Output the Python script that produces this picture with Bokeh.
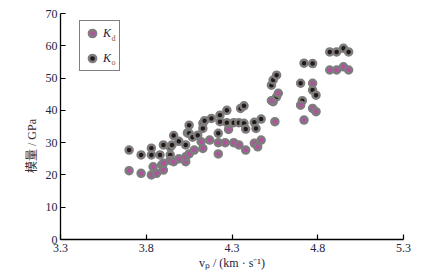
from bokeh.plotting import figure
from bokeh.models import Range1d, FixedTicker, Legend, LegendItem, Label, ColumnDataSource
from bokeh.embed import file_html
from bokeh.resources import INLINE

# ---- data ----
x_ticks = [3.3, 3.8, 4.3, 4.8, 5.3]
y_ticks = [0, 10, 20, 30, 40, 50, 60, 70]

ko_vp = [3.70, 3.77, 3.83, 3.83, 3.88, 3.90, 3.94, 3.94, 3.95, 3.96, 3.99, 4.03,
         4.04, 4.05, 4.05, 4.07, 4.10, 4.13, 4.13, 4.14, 4.18, 4.22, 4.23, 4.23,
         4.27, 4.27, 4.31, 4.34, 4.35, 4.37, 4.37, 4.38, 4.43, 4.44, 4.47, 4.53,
         4.54, 4.56, 4.54, 4.56, 4.70, 4.71, 4.72, 4.77, 4.77, 4.79, 4.87, 4.91,
         4.95, 4.98]
ko_mod = [27.7, 26.2, 28.3, 26.2, 26.2, 29.3, 28.6, 26.2, 29.3, 32.2, 30.4, 29.3,
          33.0, 35.4, 32.9, 31.7, 32.3, 36.0, 34.4, 36.8, 37.5, 32.9, 38.5, 36.5,
          40.0, 36.2, 36.2, 36.2, 40.6, 41.4, 36.0, 34.2, 36.3, 34.4, 37.3, 47.8,
          49.4, 50.9, 42.7, 44.2, 48.4, 43.0, 54.6, 54.5, 46.3, 44.7, 58.1, 58.1,
          59.2, 58.1]

kd_vp = [3.70, 3.77, 3.83, 3.84, 3.86, 3.89, 3.90, 3.90, 3.94, 3.96, 3.99, 4.03,
         4.03, 4.05, 4.08, 4.12, 4.13, 4.17, 4.22, 4.22, 4.26, 4.28, 4.31, 4.34,
         4.38, 4.43, 4.45, 4.47, 4.53, 4.55, 4.57, 4.70, 4.72, 4.77, 4.77, 4.79,
         4.87, 4.91, 4.95, 4.98]
kd_mod = [21.3, 20.5, 20.0, 22.5, 20.5, 23.1, 21.5, 23.6, 24.5, 24.1, 25.0, 24.1,
          25.6, 26.5, 27.7, 30.3, 28.2, 30.8, 30.0, 26.5, 30.0, 34.1, 30.0, 29.3,
          27.7, 29.8, 28.7, 30.8, 43.0, 36.5, 45.3, 41.6, 37.0, 48.4, 40.6, 39.6,
          52.5, 52.5, 53.5, 52.5]

RING = "#7d7d7d"
PURPLE = "#b4509f"
DARK = "#231815"
TEXT = "#1c2340"
SERIF = "'Liberation Serif', 'Noto Sans CJK SC'"

p = figure(width=428, height=277, output_backend="svg", toolbar_location=None,
           x_range=Range1d(3.3, 5.3), y_range=Range1d(0, 70),
           min_border_left=60, min_border_top=13, min_border_right=25, min_border_bottom=38)
p.outline_line_color = None
p.xgrid.visible = False
p.ygrid.visible = False
p.background_fill_color = "white"

src_ko = ColumnDataSource(dict(x=ko_vp, y=ko_mod))
src_kd = ColumnDataSource(dict(x=kd_vp, y=kd_mod))
r_ko = p.scatter("x", "y", source=src_ko, marker="circle", size=7,
                 fill_color=DARK, line_color=RING, line_width=2.5)
r_kd = p.scatter("x", "y", source=src_kd, marker="circle", size=7,
                 fill_color=PURPLE, line_color=RING, line_width=2.5)

for ax in (p.xaxis[0], p.yaxis[0]):
    ax.axis_line_color = "black"
    ax.axis_line_width = 1.3
    ax.major_tick_line_color = "black"
    ax.major_tick_line_width = 1.2
    ax.major_tick_in = 5
    ax.major_tick_out = 0
    ax.minor_tick_line_color = None
    ax.major_label_text_font = SERIF
    ax.major_label_text_font_size = "12px"
    ax.major_label_text_color = TEXT
    ax.axis_label_text_font = SERIF
    ax.axis_label_text_font_size = "12px"
    ax.axis_label_text_font_style = "normal"
    ax.axis_label_text_color = TEXT

p.xaxis.ticker = FixedTicker(ticks=x_ticks)
p.yaxis.ticker = FixedTicker(ticks=y_ticks)
p.xaxis.major_label_overrides = {t: f"{t:.1f}" for t in x_ticks}
p.xaxis.major_label_standoff = 4
p.yaxis.major_label_standoff = 3
p.xaxis.axis_label = "vₚ / (km · s⁻¹)"
p.xaxis.axis_label_standoff = 1
p.yaxis.axis_label = "模量 / GPa" + "\u00a0" * 13
p.yaxis.axis_label_standoff = 4
p.yaxis.axis_label_text_color = "#3a3030"

legend = Legend(items=[LegendItem(label="K", renderers=[r_kd]),
                       LegendItem(label="K", renderers=[r_ko])],
                location=(19, 168), padding=3, spacing=7, margin=0,
                glyph_width=18, glyph_height=18, label_standoff=2, label_width=13,
                label_text_font=SERIF, label_text_font_style="italic",
                label_text_font_size="12px", label_text_color=TEXT,
                border_line_color="black", border_line_width=1.2,
                background_fill_alpha=0)
p.add_layout(legend)

for sub, yy in (("d", 201), ("o", 177)):
    p.add_layout(Label(x=51, y=yy, x_units="screen", y_units="screen", text=sub,
                       text_font=SERIF, text_font_size="8px", text_color="#8a5a2b",
                       text_baseline="middle", level="overlay"))

open("out.html", "w").write(file_html(p, INLINE))
